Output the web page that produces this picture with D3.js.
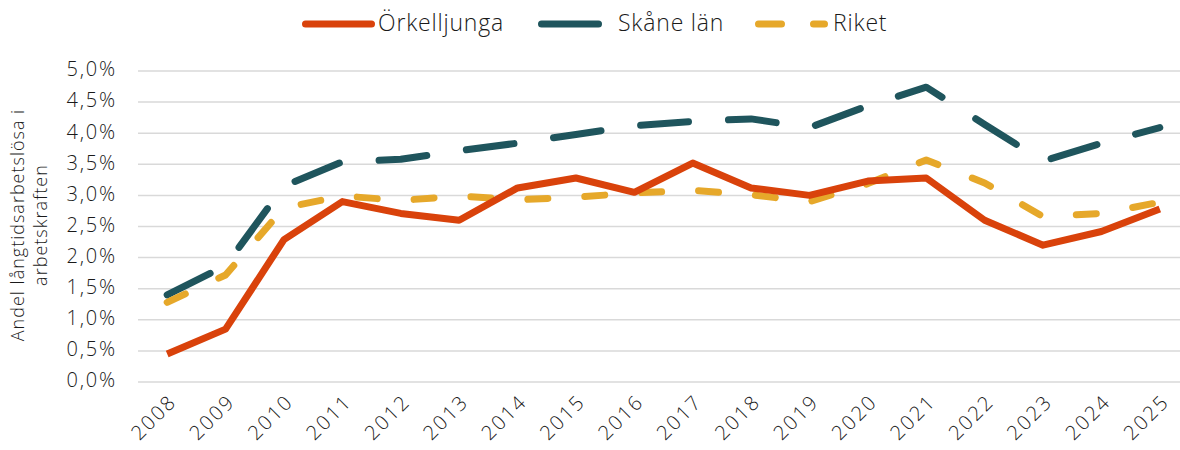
<!DOCTYPE html>
<html>
<head>
<meta charset="utf-8">
<script src="https://cdn.jsdelivr.net/npm/d3@7"></script>
<style>
  body { margin: 0; background: #fff; }
  text { font-family: "Open Sans", Lato, sans-serif; font-weight: 300; fill: #1a1a1a; }
</style>
</head>
<body>
<div id="chart"></div>
<script>
var years = ["2008","2009","2010","2011","2012","2013","2014","2015","2016","2017","2018","2019","2020","2021","2022","2023","2024","2025"];
var orkelljunga = [0.45, 0.85, 2.29, 2.90, 2.71, 2.60, 3.12, 3.28, 3.05, 3.52, 3.12, 3.00, 3.23, 3.28, 2.60, 2.20, 2.42, 2.78];
var skane = [1.40, 1.87, 3.15, 3.54, 3.58, 3.72, 3.84, 3.98, 4.12, 4.19, 4.23, 4.09, 4.44, 4.74, 4.14, 3.55, 3.84, 4.09];
var riket = [1.28, 1.72, 2.80, 2.99, 2.92, 2.99, 2.93, 2.97, 3.04, 3.08, 3.01, 2.90, 3.19, 3.57, 3.20, 2.66, 2.71, 2.89];
var yTicks = [0, 0.5, 1, 1.5, 2, 2.5, 3, 3.5, 4, 4.5, 5];

var series = [
	{ name: "Örkelljunga", values: orkelljunga, color: "#d9420b", dash: null },
	{ name: "Skåne län", values: skane, color: "#1f555d", dash: "48,40" },
	{ name: "Riket", values: riket, color: "#e6a82a", dash: "20,37" }
];

var svg = d3.select("#chart").append("svg")
	.attr("width", 1180)
	.attr("height", 450);

var x = d3.scaleBand().domain(years).range([138, 1189]);
var y = d3.scaleLinear().domain([0, 5]).range([382, 71]);

// gridlines
svg.append("g").selectAll("line").data(yTicks).enter().append("line")
	.attr("x1", 138).attr("x2", 1189)
	.attr("y1", d => y(d)).attr("y2", d => y(d))
	.attr("stroke", "#d9d9d9").attr("stroke-width", 1.5);

// y tick labels
svg.append("g").selectAll("text").data(yTicks).enter().append("text")
	.attr("x", 117).attr("y", d => y(d))
	.attr("text-anchor", "end").attr("dominant-baseline", "middle")
	.attr("font-size", "20px").attr("letter-spacing", "1.8px")
	.text(d => d.toFixed(1).replace(".", ",") + "%");

// x tick labels
svg.append("g").selectAll("text").data(years).enter().append("text")
	.attr("transform", d => `translate(${x(d) + x.bandwidth() / 2 + 7}, 399) rotate(-45)`)
	.attr("text-anchor", "end").attr("dominant-baseline", "middle")
	.attr("font-size", "20px").attr("letter-spacing", "2.2px")
	.text(d => d);

// y axis title
var title = svg.append("text")
	.attr("transform", "translate(31, 225) rotate(-90)")
	.attr("text-anchor", "middle")
	.attr("font-size", "18px").attr("letter-spacing", "1px");
title.append("tspan").attr("x", 0).attr("dy", "-0.4em").text("Andel långtidsarbetslösa i");
title.append("tspan").attr("x", 0).attr("dy", "1.3em").text("arbetskraften");

var line = d3.line()
	.x((d, i) => x(years[i]) + x.bandwidth() / 2)
	.y(d => y(d));

// draw in order so Örkelljunga is on top
[series[1], series[2], series[0]].forEach(function (s) {
	svg.append("path")
		.datum(s.values)
		.attr("d", line)
		.attr("fill", "none")
		.attr("stroke", s.color)
		.attr("stroke-width", 7)
		.attr("stroke-linecap", s.dash ? "round" : "butt")
		.attr("stroke-linejoin", "round")
		.attr("stroke-dasharray", s.dash);
});

// legend
var legend = [
	{ s: series[0], x1: 305.5, x2: 371.5, tx: 378, dash: null },
	{ s: series[1], x1: 541.5, x2: 598.5, tx: 618, dash: null },
	{ s: series[2], x1: 758.5, x2: 824.5, tx: 833, dash: "23,32" }
];
legend.forEach(function (l) {
	svg.append("line")
		.attr("x1", l.x1).attr("x2", l.x2)
		.attr("y1", 24).attr("y2", 24)
		.attr("stroke", l.s.color)
		.attr("stroke-width", 7)
		.attr("stroke-linecap", "round")
		.attr("stroke-dasharray", l.dash);
	svg.append("text")
		.attr("x", l.tx).attr("y", 25)
		.attr("dominant-baseline", "middle")
		.attr("font-size", "23px").attr("letter-spacing", "0.8px")
		.text(l.s.name);
});
</script>
</body>
</html>
